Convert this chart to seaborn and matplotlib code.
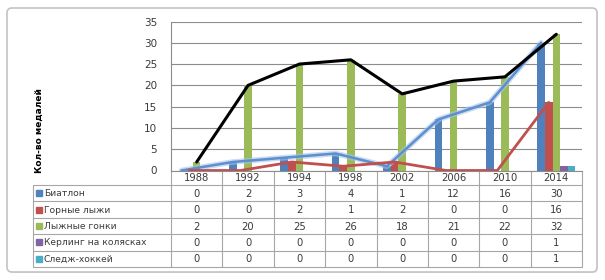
import numpy as np
import pandas as pd
import seaborn as sns
import matplotlib.pyplot as plt
from matplotlib.patches import FancyBboxPatch

years = ['1988', '1992', '1994', '1998', '2002', '2006', '2010', '2014']
series = ['Биатлон', 'Горные лыжи', 'Лыжные гонки', 'Керлинг на колясках', 'Следж-хоккей']
biathlon = [0, 2, 3, 4, 1, 12, 16, 30]
alpine = [0, 0, 2, 1, 2, 0, 0, 16]
xc_ski = [2, 20, 25, 26, 18, 21, 22, 32]
curling = [0, 0, 0, 0, 0, 0, 0, 1]
sledge = [0, 0, 0, 0, 0, 0, 0, 1]
y_ticks = [0, 5, 10, 15, 20, 25, 30, 35]
colors = ['#4F81BD', '#C0504D', '#9BBB59', '#8064A2', '#4BACC6']

values = [biathlon, alpine, xc_ski, curling, sledge]
df = pd.DataFrame({
    'year': years * len(series),
    'series': np.repeat(series, len(years)),
    'medals': np.concatenate(values),
})

sns.set_style('white')
plt.rcParams['font.family'] = ['DejaVu Sans']
text_col = '#3a3a3a'
grid_col = '#8c8c8c'

W, H = 605, 280
fig = plt.figure(figsize=(W / 100, H / 100), dpi=100)

# background axes in pixel coords (y down) for frame + data table
bg = fig.add_axes([0, 0, 1, 1], zorder=0)
bg.set_xlim(0, W)
bg.set_ylim(H, 0)
bg.axis('off')
bg.add_patch(FancyBboxPatch((8, 9), 590, 264, boxstyle='round,pad=0,rounding_size=5',
                            fc='#e6e6e6', ec='none'))
bg.add_patch(FancyBboxPatch((7, 8), 590, 264, boxstyle='round,pad=0,rounding_size=5',
                            fc='white', ec='#c4c4c4', lw=1.2))

# plot area
px0, px1, py_top, py_bot = 171, 582, 21.5, 170.5
ax = fig.add_axes([px0 / W, 1 - py_bot / H, (px1 - px0) / W, (py_bot - py_top) / H], zorder=1)
ax.patch.set_alpha(0)
sns.barplot(data=df, x='year', y='medals', hue='series', palette=colors, saturation=1,
            width=0.74, legend=False, edgecolor='none', linewidth=0, ax=ax)

# overlay lines through bar tops
line_styles = [(0, '#5b8fd0', 1.8), (1, '#c0504d', 2.0), (2, 'black', 2.2)]
for idx, col, lw in line_styles:
    xs = [p.get_x() + p.get_width() / 2 for p in ax.containers[idx]]
    if idx == 0:
        ax.plot(xs, values[idx], color='#a9c4e8', lw=4, alpha=0.6, zorder=3)
    ax.plot(xs, values[idx], color=col, lw=lw, zorder=4, solid_capstyle='round')

ax.set_xlim(-0.5, len(years) - 0.5)
ax.set_ylim(0, 35)
ax.set_yticks(y_ticks)
ax.set_xticks([])
ax.set_xlabel('')
ax.set_ylabel('Кол-во медалей', fontsize=6.5, fontweight='bold', color='black')
ax.yaxis.set_label_coords(-0.31, 0.27)
ax.tick_params(axis='y', length=0, pad=10, labelsize=7.5, labelcolor=text_col)
ax.yaxis.grid(True, color=grid_col, lw=0.8)
ax.set_axisbelow(True)
for s in ['top', 'right']:
    ax.spines[s].set_visible(False)
for s in ['left', 'bottom']:
    ax.spines[s].set_color(grid_col)
    ax.spines[s].set_linewidth(0.8)

# data table
tx0 = 33
col_edges = np.linspace(px0, px1, len(years) + 1)
col_mid = (col_edges[:-1] + col_edges[1:]) / 2
head_top, head_bot = 170.5, 185
row_edges = np.linspace(head_bot, 267, len(series) + 1)
row_mid = (row_edges[:-1] + row_edges[1:]) / 2
lc = '#a6a6a6'
for y in row_edges:
    bg.plot([tx0, px1], [y, y], color=lc, lw=0.8)
bg.plot([tx0, tx0], [head_bot, row_edges[-1]], color=lc, lw=0.8)
for x in col_edges:
    bg.plot([x, x], [head_top, row_edges[-1]], color=lc, lw=0.8)

for x, yr in zip(col_mid, years):
    bg.text(x, (head_top + head_bot) / 2 + 0.5, yr, ha='center', va='center',
            fontsize=7.2, color=text_col)
for r, (name, vals, col) in enumerate(zip(series, values, colors)):
    ym = row_mid[r]
    bg.plot(39, ym, marker='s', ms=4.5, color=col, mec=col)
    bg.text(44, ym + 0.5, name, ha='left', va='center', fontsize=6.6, color=text_col)
    for x, v in zip(col_mid, vals):
        bg.text(x, ym + 0.5, str(v), ha='center', va='center', fontsize=7.2, color=text_col)

fig.savefig('out.png', dpi=100)
